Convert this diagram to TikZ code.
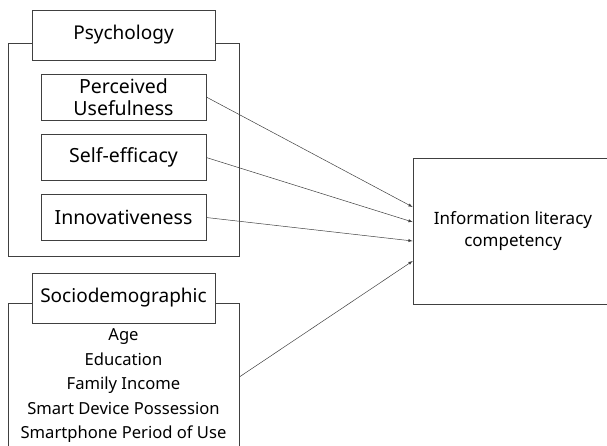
\documentclass[tikz,border=0pt]{standalone}
\usepackage{fontspec}
\setmainfont{Noto Sans}
\usetikzlibrary{calc}
\begin{document}
\begin{tikzpicture}[x=1pt,y=-1pt,
        box/.style={draw=black!75, line width=0.6pt, inner sep=0pt},
        titlebox/.style={box, fill=white, minimum width=183pt, minimum height=50pt, font=\fontsize{19}{22}\selectfont},
        itembox/.style={box, minimum width=165pt, minimum height=46pt, align=center, font=\fontsize{19.5}{22}\selectfont},
        link/.style={-latex, draw=black!75, line width=0.5pt}]
        \useasboundingbox (0,0) rectangle (607,445);

        % psychology group
        \node[box, minimum width=231pt, minimum height=213pt] (psyarea) at (123.5,149.5) {};
        \node[titlebox] (psy) at (123.5,35) {Psychology};
        \node[itembox] (pu) at (123.5,97) {Perceived\\Usefulness};
        \node[itembox] (se) at (123.5,157.5) {Self-efficacy};
        \node[itembox] (inno) at (123.5,217.5) {Innovativeness};

        % sociodemographic group
        \node[box, minimum width=231pt, minimum height=170pt, anchor=north] (socarea) at (123.5,303) {};
        \node[titlebox] (soc) at (123.5,298) {Sociodemographic};
        \node[align=center, font=\fontsize{16.6}{24.5}\selectfont] (items) at (123.5,386)
            {Age\\Education\\Family Income\\Smart Device Possession\\Smartphone Period of Use};

        \node[box, minimum width=200pt, minimum height=146pt, align=center, font=\fontsize{17}{22}\selectfont] (ilc) at (513,231)
            {Information literacy\\competency};

        \draw[link] (pu.east) -- ($(ilc.west)+(0,-24)$);
        \draw[link] (se.east) -- ($(ilc.west)+(0,-9)$);
        \draw[link] (inno.east) -- ($(ilc.west)+(0,10)$);
        \draw[link] ($(items -| socarea.east)+(0,-9)$) -- ($(ilc.west)+(0,30)$);
    \end{tikzpicture}
\end{document}
